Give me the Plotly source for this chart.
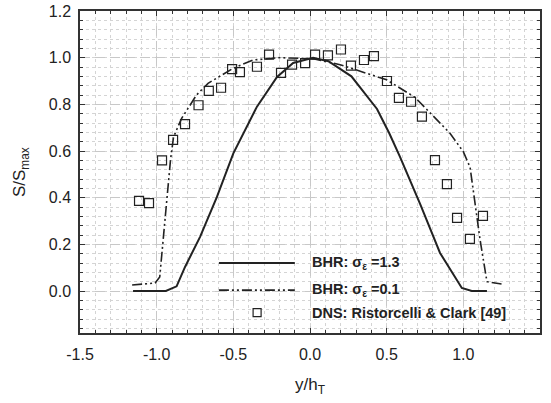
import plotly.graph_objects as go

# BHR: sigma_eps = 1.3 (solid)
s13_x = [-1.154, -0.94, -0.87, -0.815, -0.717, -0.607, -0.5, -0.346, -0.215, -0.11, 0.02,
         0.12, 0.27, 0.437, 0.517, 0.587, 0.72, 0.848, 0.99, 1.055, 1.154]
s13_y = [0.0, 0.0, 0.02, 0.103, 0.232, 0.403, 0.59, 0.79, 0.917, 0.977, 1.0,
         0.985, 0.92, 0.78, 0.676, 0.575, 0.37, 0.163, 0.013, 0.0, 0.0]

# BHR: sigma_eps = 0.1 (dash-dot-dot)
s01_x = [-1.16, -1.01, -0.98, -0.935, -0.91, -0.89, -0.837, -0.74, -0.665, -0.5, -0.37, -0.2,
         0.02, 0.196, 0.437, 0.5, 0.685, 0.913, 1.0, 1.044, 1.109, 1.154, 1.25]
s01_y = [0.026, 0.034, 0.06, 0.39, 0.56, 0.66, 0.74, 0.84, 0.89, 0.955, 0.99, 1.0,
         0.995, 0.97, 0.918, 0.905, 0.83, 0.676, 0.597, 0.53, 0.22, 0.04, 0.03]

# DNS: Ristorcelli & Clark [49]
dns_x = [-1.115, -1.05, -0.965, -0.893, -0.815, -0.727, -0.66, -0.58, -0.508, -0.457, -0.346,
         -0.267, -0.189, -0.117, -0.032, 0.033, 0.117, 0.202, 0.267, 0.352, 0.417, 0.502,
         0.58, 0.659, 0.73, 0.815, 0.893, 0.959, 1.043, 1.128]
dns_y = [0.386, 0.377, 0.56, 0.648, 0.715, 0.796, 0.858, 0.871, 0.951, 0.938, 0.961,
         1.013, 0.935, 0.97, 0.977, 1.013, 1.01, 1.035, 0.966, 0.99, 1.007, 0.90,
         0.828, 0.811, 0.747, 0.561, 0.458, 0.313, 0.223, 0.322]

x_tickvals = [-1.5, -1.0, -0.5, 0.0, 0.5, 1.0, 1.5]
x_ticktext = ["-1.5", "-1.0", "-0.5", "0.0", "0.5", "1.0", "1.5"]
y_tickvals = [0.0, 0.2, 0.4, 0.6, 0.8, 1.0, 1.2]
y_ticktext = ["0.0", "0.2", "0.4", "0.6", "0.8", "1.0", "1.2"]

legend_labels = ["<b>BHR: σ<sub>ε</sub> =1.3</b>", "<b>BHR: σ<sub>ε</sub> =0.1</b>",
                 "<b>DNS: Ristorcelli & Clark [49]</b>"]

DARK = "#222222"
DASHDOT = "10px,3px,2px,3px,2px,3px"
FONT = "Liberation Sans, Arial"

fig = go.Figure()
fig.add_trace(go.Scatter(x=s13_x, y=s13_y, mode="lines",
                         line=dict(color=DARK, width=2), showlegend=False))
fig.add_trace(go.Scatter(x=s01_x, y=s01_y, mode="lines",
                         line=dict(color=DARK, width=1.6, dash=DASHDOT), showlegend=False))
fig.add_trace(go.Scatter(x=dns_x, y=dns_y, mode="markers",
                         marker=dict(symbol="square-open", size=9, color=DARK,
                                     line=dict(width=1.2, color=DARK)),
                         showlegend=False))

axis_common = dict(
    showline=True, linecolor="#333333", linewidth=1.5, mirror="allticks",
    ticks="inside", ticklen=5, tickwidth=1, tickcolor="#333333",
    showgrid=True, gridcolor="#c8c8c8", gridwidth=1.3, griddash="10px,5px",
    zeroline=False, automargin=False,
    tickfont=dict(family=FONT, size=16, color=DARK),
)

fig.update_xaxes(range=[-1.5, 1.5], tickmode="array", tickvals=x_tickvals, ticktext=x_ticktext,
                 minor=dict(dtick=0.1, tick0=-1.5, ticks="inside", ticklen=3, tickcolor="#333333",
                            showgrid=True, gridcolor="#d4d4d4", griddash="dot", gridwidth=1),
                 ticklabelstandoff=6, **axis_common)
fig.update_yaxes(range=[-0.18, 1.2], tickmode="array", tickvals=y_tickvals, ticktext=y_ticktext,
                 minor=dict(dtick=0.04, tick0=0, ticks="inside", ticklen=3, tickcolor="#333333",
                            showgrid=True, gridcolor="#d4d4d4", griddash="dot", gridwidth=1),
                 ticklabelstandoff=4, **axis_common)

# manual legend
lg_x0, lg_x1, txt_x = 0.302, 0.467, 0.500
rows = [0.2174, 0.133, 0.063]
fig.add_shape(type="line", xref="paper", yref="paper", x0=lg_x0, x1=lg_x1, y0=rows[0], y1=rows[0],
              line=dict(color=DARK, width=2))
fig.add_shape(type="line", xref="paper", yref="paper", x0=lg_x0, x1=lg_x1, y0=rows[1], y1=rows[1],
              line=dict(color=DARK, width=1.6, dash=DASHDOT))
fig.add_shape(type="rect", xref="paper", yref="paper", x0=0.385 - 0.0087, x1=0.385 + 0.0087,
              y0=rows[2] - 0.0124, y1=rows[2] + 0.0124, line=dict(color=DARK, width=1.2),
              fillcolor="white")
for lab, yy in zip(legend_labels, rows):
    fig.add_annotation(xref="paper", yref="paper", x=txt_x, y=yy, text=lab, showarrow=False,
                       xanchor="left", yanchor="middle",
                       font=dict(family=FONT, size=14.5, color=DARK))

# axis titles
fig.add_annotation(xref="paper", yref="paper", x=0.5, y=-0.165, text="y/h<sub>T</sub>",
                   showarrow=False, xanchor="center", yanchor="middle",
                   font=dict(family=FONT, size=17, color=DARK))
fig.add_annotation(xref="paper", yref="paper", x=-0.128, y=0.5, text="S/S<sub>max</sub>",
                   showarrow=False, xanchor="center", yanchor="middle", textangle=-90,
                   font=dict(family=FONT, size=17, color=DARK))

fig.update_layout(
    width=551, height=403,
    margin=dict(l=80, r=11, t=11, b=70, pad=0),
    plot_bgcolor="white", paper_bgcolor="white",
    showlegend=False,
)

fig.write_html("out.html")
